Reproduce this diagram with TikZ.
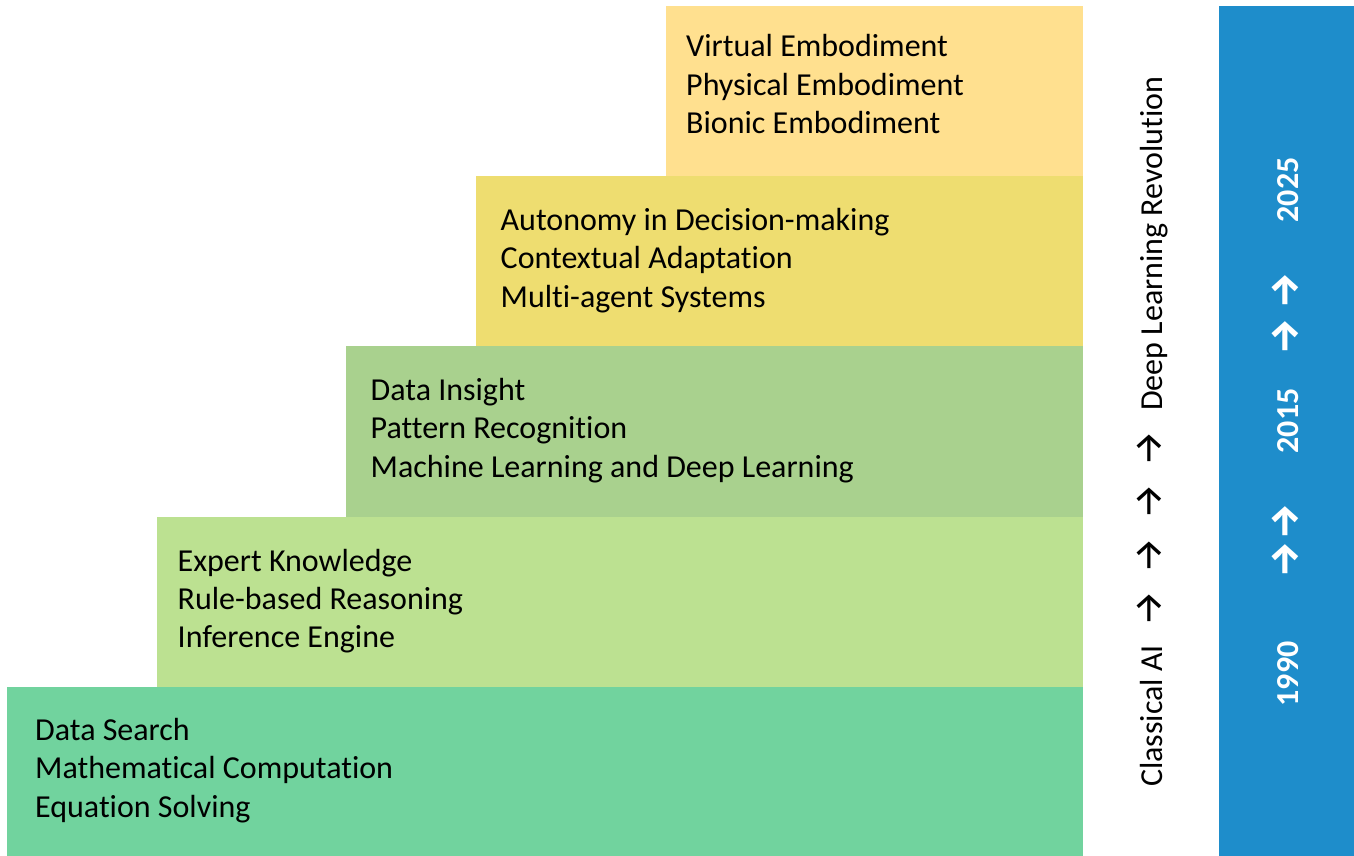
\documentclass[tikz,border=0pt]{standalone}
\usepackage{fontspec}
\setmainfont{Carlito}[Ligatures=CommonOff]
\newfontfamily\arrowfont{Fira Sans}
\definecolor{c1}{RGB}{113,211,158}
\definecolor{c2}{RGB}{188,225,145}
\definecolor{c3}{RGB}{169,209,142}
\definecolor{c4}{RGB}{238,221,112}
\definecolor{c5}{RGB}{255,224,143}
\definecolor{cblue}{RGB}{30,141,203}
\begin{document}
\begin{tikzpicture}[x=1pt,y=-1pt,
  tl/.style={anchor=base west,inner sep=0pt,font=\fontsize{32}{38.5}\selectfont},
  vlabel/.style={rotate=90,inner sep=0pt,font=\fontsize{32}{38.5}\selectfont},
  varrow/.style={rotate=90,inner sep=0pt,anchor=center,font=\arrowfont\fontsize{40}{40}\selectfont},
  year/.style={rotate=90,inner sep=0pt,anchor=base,text=white,font=\fontsize{32}{38.5}\selectfont\bfseries},
  warrow/.style={rotate=90,inner sep=0pt,anchor=center,text=white,font=\arrowfont\fontsize{40}{40}\selectfont\bfseries}]
\useasboundingbox (0,0) rectangle (1354,856);
% tiers
\fill[c1] (7,687) rectangle (1083,856);
\fill[c2] (157,517) rectangle (1083,687);
\fill[c3] (346,346) rectangle (1083,517);
\fill[c4] (476,176) rectangle (1083,346);
\fill[c5] (666,6) rectangle (1083,176);
% blue bar
\fill[cblue] (1219,6) rectangle (1354,856);
% tier 1
\node[tl] (t1a) at (35,740) {Data Search};
\node[tl] (t1b) at (35,778.5) {Mathematical Computation};
\node[tl] (t1c) at (35,817) {Equation Solving};
% tier 2
\node[tl] (t2a) at (177.5,571) {Expert Knowledge};
\node[tl] (t2b) at (177.5,609) {Rule-based Reasoning};
\node[tl] (t2c) at (177.5,647) {Inference Engine};
% tier 3
\node[tl] (t3a) at (370.5,400) {Data Insight};
\node[tl] (t3b) at (370.5,438.5) {Pattern Recognition};
\node[tl] (t3c) at (370.5,477) {Machine Learning and Deep Learning};
% tier 4
\node[tl] (t4a) at (500.5,230) {Autonomy in Decision-making};
\node[tl] (t4b) at (500.5,268.5) {Contextual Adaptation};
\node[tl] (t4c) at (500.5,307) {Multi-agent Systems};
% tier 5
\node[tl] (t5a) at (686,57) {Virtual Embodiment};
\node[tl] (t5b) at (686,95.5) {Physical Embodiment};
\node[tl] (t5c) at (686,134) {Bionic Embodiment};
% vertical labels
\node[vlabel,anchor=base west] (cls) at (1162,787) {Classical AI};
\node[varrow] (a1) at (1150,608) {→};
\node[varrow] (a2) at (1150,555) {→};
\node[varrow] (a3) at (1150,501) {→};
\node[varrow] (a4) at (1150,448) {→};
\node[vlabel,anchor=base west] (dl) at (1162,411) {Deep Learning Revolution};
% years
\node[year] (y1) at (1298,674) {1990};
\node[warrow] (w1) at (1285,559) {→};
\node[warrow] (w2) at (1285,521) {→};
\node[year] (y2) at (1298,421) {2015};
\node[warrow] (w3) at (1285,336) {→};
\node[warrow] (w4) at (1285,290) {→};
\node[year] (y3) at (1298,190) {2025};
\end{tikzpicture}
\end{document}
